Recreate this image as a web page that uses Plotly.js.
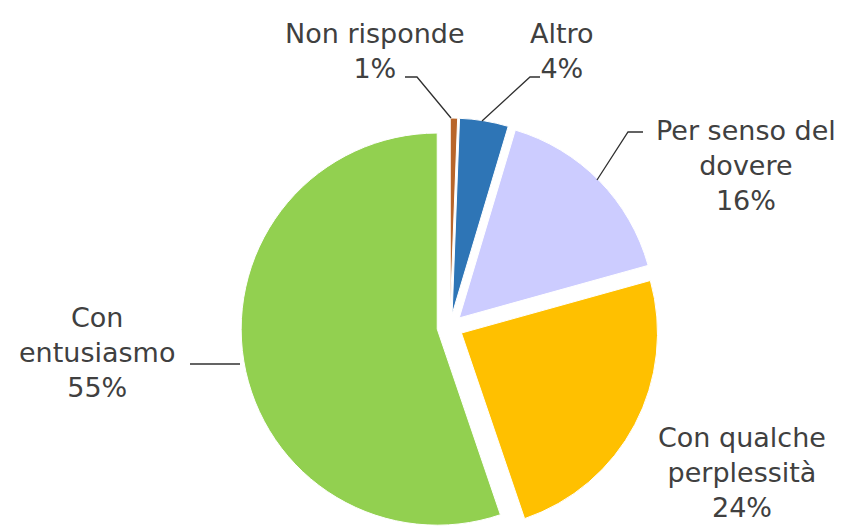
<!DOCTYPE html>
<html>
<head>
<meta charset="utf-8">
<script src="https://cdn.plot.ly/plotly-3.0.1.min.js"></script>
<style>
html, body { margin: 0; padding: 0; overflow: hidden; background: #fff; }
#chart { width: 854px; height: 540px; }
</style>
</head>
<body>
<div id="chart"></div>
<script>
// Data (clockwise from 12 o'clock)
const categories = ["Non risponde", "Altro", "Per senso del dovere", "Con qualche perplessità", "Con entusiasmo"];
const labelTexts = ["Non risponde", "Altro", "Per senso del<br>dovere", "Con qualche<br>perplessità", "Con<br>entusiasmo"];
const values = [0.6, 4, 16, 24, 55];
const sliceColors = ["#B8652A", "#2E75B6", "#CCCCFF", "#FFC000", "#92D050"];

const W = 854, H = 540;
const px = x => x / W;
const py = y => 1 - y / H;

// label block centres (pixels) and leader lines (pixels)
const labelPos = [
  {x: 375, y: 51},
  {x: 562, y: 51},
  {x: 746, y: 166},
  {x: 742, y: 472},
  {x: 97, y: 352}
];
const leaders = [
  [[405, 77], [417, 77], [451, 118]],
  [[540, 77], [530, 77], [482, 121]],
  [[643, 132], [628, 132], [597, 180]],
  null,
  [[190, 364], [240, 364]]
];

const textColor = "#404040";
const fontFamily = "DejaVu Sans, sans-serif";

const annotations = categories.map((c, i) => ({
  xref: "paper", yref: "paper",
  x: px(labelPos[i].x), y: py(labelPos[i].y),
  xanchor: "center", yanchor: "middle",
  text: labelTexts[i] + "<br>" + Math.round(values[i]) + "%",
  showarrow: false,
  align: "center",
  font: {family: fontFamily, size: 27, color: textColor}
}));

const shapes = leaders.filter(l => l).map(pts => ({
  type: "path",
  xref: "paper", yref: "paper",
  path: pts.map((p, j) => (j ? "L" : "M") + px(p[0]) + "," + py(p[1])).join(" "),
  line: {color: "#303030", width: 1.3}
}));

const pull = 0.066;
const trace = {
  type: "pie",
  labels: categories,
  values: values,
  sort: false,
  direction: "clockwise",
  rotation: 0,
  pull: values.map(() => pull),
  marker: {colors: sliceColors, line: {color: "#ffffff", width: 1}},
  textinfo: "none",
  hoverinfo: "label+percent",
  showlegend: false,
  domain: {x: [(450 - 209) / W, (450 + 209) / W], y: [(H - 327 - 209) / H, (H - 327 + 209) / H]}
};

Plotly.newPlot("chart", [trace], {
  width: W, height: H,
  margin: {l: 0, r: 0, t: 0, b: 0},
  paper_bgcolor: "#ffffff",
  plot_bgcolor: "#ffffff",
  showlegend: false,
  annotations: annotations,
  shapes: shapes
}, {displayModeBar: false, staticPlot: true});
</script>
</body>
</html>
